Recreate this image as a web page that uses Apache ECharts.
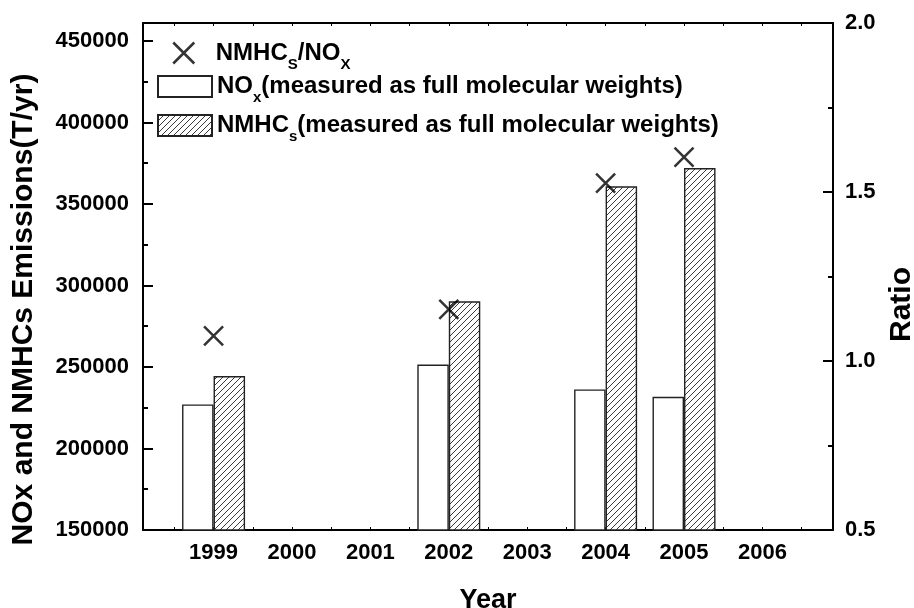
<!DOCTYPE html>
<html>
<head>
<meta charset="utf-8">
<script src="https://cdn.jsdelivr.net/npm/echarts@6/dist/echarts.min.js"></script>
<style>
  html, body { margin: 0; padding: 0; background: #fff; }
  #chart { width: 914px; height: 608px; }
</style>
</head>
<body>
<div id="chart"></div>
<script>
  // tick labels and data
  var years = [1999, 2000, 2001, 2002, 2003, 2004, 2005, 2006];
  var dataYears = [1999, 2002, 2004, 2005];
  var noxValues = [227000, 251500, 236200, 231700];
  var nmhcValues = [244400, 290300, 360800, 372000];
  var ratioValues = [1.074, 1.153, 1.526, 1.603];
  var leftTicks = [150000, 200000, 250000, 300000, 350000, 400000, 450000];

  var FONT = '"Liberation Sans", Arial, sans-serif';
  var crossPath = 'path://M0,0L10,10M10,0L0,10';

  var halfTicks = [];
  years.forEach(function (y) { halfTicks.push(y - 0.5, y); });
  halfTicks.push(years[years.length - 1] + 0.5);
  var leftMinor = leftTicks.slice(0, -1).map(function (v) { return v + 25000; });

  // hatch fill for NMHCs bars
  var hatch = document.createElement('canvas');
  hatch.width = 6; hatch.height = 6;
  var g = hatch.getContext('2d');
  g.fillStyle = '#fff'; g.fillRect(0, 0, 6, 6);
  g.strokeStyle = '#222'; g.lineWidth = 0.9;
  g.beginPath();
  g.moveTo(-1, 7); g.lineTo(7, -1);
  g.moveTo(-1, 1); g.lineTo(1, -1);
  g.moveTo(5, 7); g.lineTo(7, 5);
  g.stroke();

  var rich = {
    m: { fontSize: 24, fontWeight: 'bold', fontFamily: FONT, color: '#000', lineHeight: 38, verticalAlign: 'middle' },
    s: { fontSize: 15, fontWeight: 'bold', fontFamily: FONT, color: '#000', lineHeight: 15, verticalAlign: 'bottom' }
  };
  var legendText = {
    ratio: '{m|NMHC}{s|S}{m|/NO}{s|X}',
    nox: '{m|NO}{s|x}{m|(measured as full molecular weights)}',
    nmhc: '{m|NMHC}{s|s}{m|(measured as full molecular weights)}'
  };
  function legendAt(name, left, top, extra) {
    var l = {
      data: [{ name: name, icon: 'rect' }], left: left, top: top, padding: 0,
      itemWidth: 54, itemHeight: 21, selectedMode: false,
      formatter: function (n) { return legendText[n]; },
      textStyle: { rich: rich }
    };
    for (var k in extra) l[k] = extra[k];
    return l;
  }

  var tickLabel = { fontSize: 22, fontWeight: 'bold', fontFamily: FONT, color: '#000' };
  var titleStyle = { fontSize: 30, fontWeight: 'bold', fontFamily: FONT, color: '#000' };
  var line2 = { lineStyle: { color: '#000', width: 2 } };

  var chart = echarts.init(document.getElementById('chart'));
  chart.setOption({
    animation: false,
    backgroundColor: '#fff',
    grid: { left: 143, right: 81, top: 23, bottom: 78, outerBoundsMode: 'none' },
    legend: [
      legendAt('ratio', 172, 41, {
        data: [{ name: 'ratio', icon: crossPath }],
        itemStyle: { color: 'rgba(0,0,0,0)', borderColor: '#000', borderWidth: 2.5 }
      }),
      legendAt('nox', 157, 74.5),
      legendAt('nmhc', 157, 113.5)
    ],
    xAxis: [
      {
        type: 'value', position: 'bottom', min: 1998.1, max: 2006.9,
        name: 'Year', nameLocation: 'middle', nameGap: 57,
        nameTextStyle: { fontSize: 27, fontWeight: 'bold', fontFamily: FONT, color: '#000' },
        axisLine: line2,
        axisTick: { inside: true, length: 3, customValues: halfTicks, lineStyle: { color: '#000', width: 1 } },
        axisLabel: Object.assign({ customValues: years, margin: 12, formatter: function (v) { return String(v); } }, tickLabel),
        splitLine: { show: false }
      },
      {
        type: 'value', position: 'top', min: 1998.1, max: 2006.9,
        axisLine: line2,
        axisTick: { inside: true, length: 3, customValues: halfTicks, lineStyle: { color: '#000', width: 1 } },
        axisLabel: { show: false },
        splitLine: { show: false }
      }
    ],
    yAxis: [
      {
        type: 'value', position: 'left', min: 150000, max: 461000,
        name: 'NOx and NMHCs Emissions(T/yr)', nameLocation: 'middle', nameGap: 104,
        nameTextStyle: Object.assign({ padding: [0, 66, 0, 0] }, titleStyle),
        axisLine: line2,
        axisTick: { inside: true, length: 10, customValues: leftTicks, lineStyle: { color: '#000', width: 2 } },
        axisLabel: Object.assign({ customValues: leftTicks, margin: 14, formatter: function (v) { return String(v); } }, tickLabel),
        splitLine: { show: false }
      },
      {
        type: 'value', position: 'left', min: 150000, max: 461000,
        axisLine: { show: false },
        axisTick: { inside: true, length: 5, customValues: leftMinor, lineStyle: { color: '#000', width: 2 } },
        axisLabel: { show: false },
        splitLine: { show: false }
      },
      {
        type: 'value', position: 'right', min: 0.5, max: 2.0, interval: 0.5,
        name: 'Ratio', nameLocation: 'middle', nameGap: 47, nameRotate: 90,
        nameTextStyle: Object.assign({ padding: [0, 56, 0, 0] }, titleStyle),
        axisLine: line2,
        axisTick: { inside: true, length: 10, lineStyle: { color: '#000', width: 2 } },
        minorTick: { show: true, splitNumber: 2, length: 5, lineStyle: { color: '#000', width: 2 } },
        axisLabel: Object.assign({ margin: 12, formatter: function (v) { return v.toFixed(1); } }, tickLabel),
        splitLine: { show: false }, minorSplitLine: { show: false }
      }
    ],
    series: [
      {
        name: 'nox', type: 'bar', xAxisIndex: 0, yAxisIndex: 0,
        barWidth: 31.5, barGap: '0%',
        itemStyle: { color: '#fff', borderColor: '#222', borderWidth: 1.4 },
        emphasis: { disabled: true },
        data: dataYears.map(function (y, i) { return [y, noxValues[i]]; })
      },
      {
        name: 'nmhc', type: 'bar', xAxisIndex: 0, yAxisIndex: 0,
        barWidth: 31.5, barGap: '0%',
        itemStyle: { color: { image: hatch, repeat: 'repeat' }, borderColor: '#222', borderWidth: 1.4 },
        emphasis: { disabled: true },
        data: dataYears.map(function (y, i) { return [y, nmhcValues[i]]; })
      },
      {
        name: 'ratio', type: 'scatter', xAxisIndex: 0, yAxisIndex: 2,
        symbol: crossPath, symbolSize: 19,
        itemStyle: { color: 'rgba(0,0,0,0)', borderColor: '#000', borderWidth: 2.5 },
        emphasis: { disabled: true },
        data: dataYears.map(function (y, i) { return [y, ratioValues[i]]; })
      }
    ]
  });
</script>
</body>
</html>
